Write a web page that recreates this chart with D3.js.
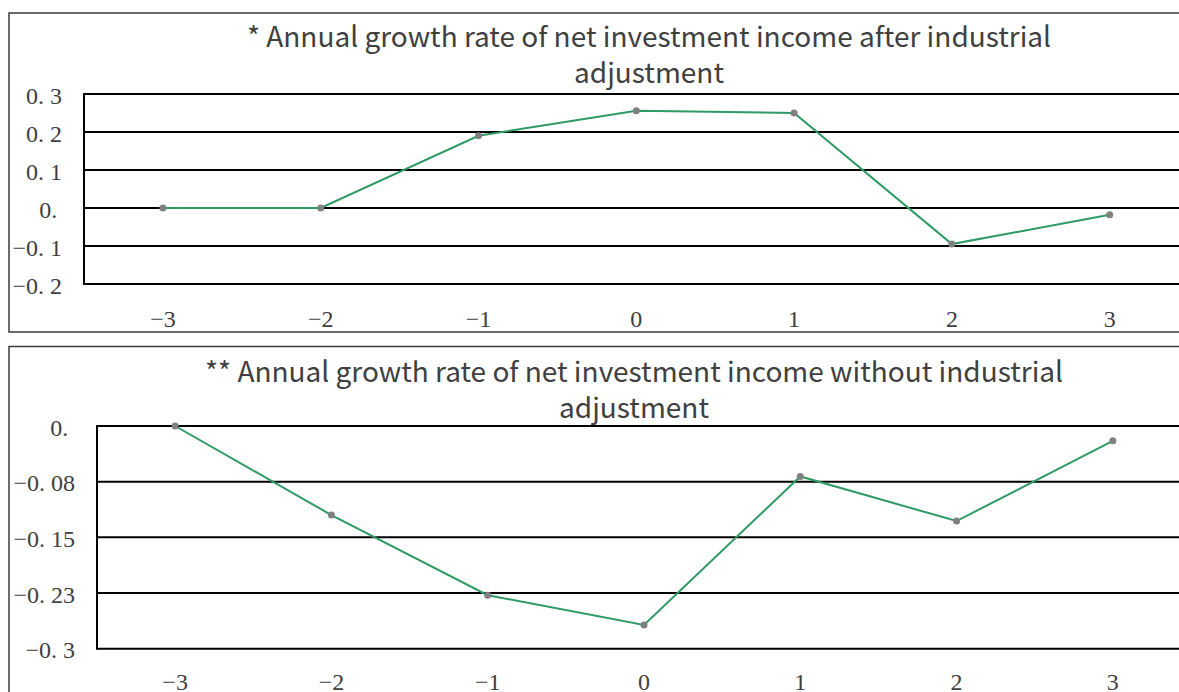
<!DOCTYPE html>
<html>
<head>
<meta charset="utf-8">
<script src="https://cdn.jsdelivr.net/npm/d3@7"></script>
<style>
  html, body { margin: 0; padding: 0; background: #ffffff; overflow: hidden; }
  svg { display: block; }
  .tick-label { font-family: "Liberation Serif", "DejaVu Serif", serif; font-size: 24px; fill: #404040; white-space: pre; }
  .title { font-family: "Noto Sans CJK SC", "Noto Sans", sans-serif; font-size: 28px; fill: #404040; }
</style>
</head>
<body>
<svg id="chart" width="1179" height="692"></svg>
<script>
// Periods relative to the adjustment year
const periods = [-3, -2, -1, 0, 1, 2, 3];

// Annual growth rate of net investment income, after industrial adjustment
const growthAfterAdjustment = [0, 0, 0.19, 0.256, 0.25, -0.095, -0.018];
// Annual growth rate of net investment income, without industrial adjustment
const growthWithoutAdjustment = [0, -0.12, -0.228, -0.268, -0.068, -0.128, -0.02];

// Value-axis ticks and their printed labels
const afterTicks = [0.3, 0.2, 0.1, 0, -0.1, -0.2];
const afterTickLabels = ["0. 3", "0. 2", "0. 1", "0.\u2009", "\u22120. 1", "\u22120. 2"];
const withoutTicks = [0, -0.075, -0.15, -0.225, -0.3];
const withoutTickLabels = ["0.\u2009\u200a", "\u22120. 08", "\u22120. 15", "\u22120. 23", "\u22120. 3"];

const afterTitle = ["* Annual growth rate of net investment income after industrial", "adjustment"];
const withoutTitle = ["** Annual growth rate of net investment income without industrial", "adjustment"];

const svg = d3.select("#chart");
const lineColor = "#2e9a64";
const markerColor = "#808080";

function drawPanel(cfg) {
  const g = svg.append("g");

  // chart frame
  g.append("rect")
    .attr("x", cfg.frame.x).attr("y", cfg.frame.y)
    .attr("width", cfg.frame.w).attr("height", cfg.frame.h)
    .attr("fill", "#ffffff").attr("stroke", "#3a3a3a").attr("stroke-width", 1.5);

  // title, two lines
  const title = g.append("text").attr("class", "title").attr("text-anchor", "middle");
  cfg.title.forEach((line, i) => {
    title.append("tspan").attr("x", cfg.titleX).attr("y", cfg.titleY + i * 36).text(line);
  });

  const x = d3.scaleBand().domain(cfg.categories).range([cfg.plot.left, cfg.plot.right]);
  const y = d3.scaleLinear().domain(cfg.domain).range([cfg.plot.bottom, cfg.plot.top]);

  // horizontal gridlines
  g.append("g").selectAll("line").data(cfg.ticks).join("line")
    .attr("x1", cfg.plot.left).attr("x2", cfg.plot.right)
    .attr("y1", d => y(d)).attr("y2", d => y(d))
    .attr("stroke", "#000000").attr("stroke-width", 2);

  // left edge of the plot area
  g.append("line")
    .attr("x1", cfg.plot.left).attr("x2", cfg.plot.left)
    .attr("y1", y(cfg.domain[0]) + 1).attr("y2", y(cfg.domain[1]) - 1)
    .attr("stroke", "#000000").attr("stroke-width", 2);

  // value-axis labels
  g.append("g").selectAll("text").data(cfg.ticks).join("text")
    .attr("class", "tick-label")
    .attr("text-anchor", "end")
    .attr("x", cfg.labelX)
    .attr("y", d => y(d) + 9.5)
    .text((d, i) => cfg.tickLabels[i]);

  // category labels
  g.append("g").selectAll("text").data(cfg.categories).join("text")
    .attr("class", "tick-label")
    .attr("text-anchor", "middle")
    .attr("x", d => x(d) + x.bandwidth() / 2)
    .attr("y", cfg.categoryY)
    .text(d => d < 0 ? "\u2212" + Math.abs(d) : String(d));

  const points = cfg.categories.map((c, i) => [x(c) + x.bandwidth() / 2, y(cfg.values[i])]);

  g.append("path")
    .attr("d", d3.line()(points))
    .attr("fill", "none").attr("stroke", lineColor).attr("stroke-width", 2);

  g.append("g").selectAll("circle").data(points).join("circle")
    .attr("cx", d => d[0]).attr("cy", d => d[1]).attr("r", 3.5)
    .attr("fill", markerColor);
}

drawPanel({
  frame: { x: 9, y: 13, w: 1300, h: 319 },
  title: afterTitle, titleX: 649, titleY: 47,
  categories: periods, values: growthAfterAdjustment,
  domain: [-0.2, 0.3], ticks: afterTicks, tickLabels: afterTickLabels,
  plot: { left: 84, right: 1188.6, top: 94, bottom: 284 },
  labelX: 62, categoryY: 327
});

drawPanel({
  frame: { x: 9, y: 346.5, w: 1300, h: 400 },
  title: withoutTitle, titleX: 634, titleY: 382,
  categories: periods, values: growthWithoutAdjustment,
  domain: [-0.3, 0], ticks: withoutTicks, tickLabels: withoutTickLabels,
  plot: { left: 97, right: 1191, top: 426, bottom: 648.7 },
  labelX: 75, categoryY: 689.5
});
</script>
</body>
</html>
